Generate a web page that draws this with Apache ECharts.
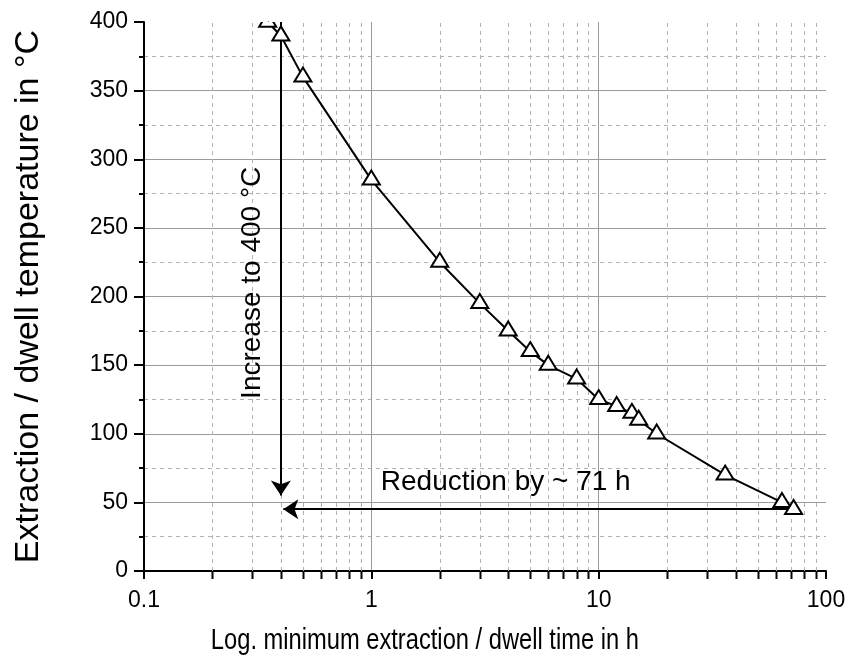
<!DOCTYPE html>
<html><head><meta charset="utf-8">
<script src="https://cdn.jsdelivr.net/npm/echarts@6/dist/echarts.min.js"></script>
<style>html,body{margin:0;padding:0;background:#fff}#c{width:849px;height:657px}</style>
</head><body><div id="c"></div>
<script>
// ---- data ----
const timeH = [0.35, 0.4, 0.5, 1, 2, 3, 4, 5, 6, 8, 10, 12, 14, 15, 18, 36, 64, 72];
const tempC = [400, 390, 360, 285, 225, 195, 175, 160, 150, 140, 125, 120, 115, 110, 100, 70, 50, 45];
const xMinorTicks = [0.2, 0.3, 0.4, 0.5, 0.6, 0.7, 0.8, 0.9, 2, 3, 4, 5, 6, 7, 8, 9, 20, 30, 40, 50, 60, 70, 80, 90];
const xRange = [0.1, 100];
const yRange = [0, 400];
const yStep = 50;
const increaseArrow = [[0.4, 400], [0.4, 55]];
const reductionArrow = [[72, 45], [0.41, 45]];
const increaseText = 'Increase to 400 °C';
const reductionText = 'Reduction by ~ 71 h';
const xName = 'Log. minimum extraction / dwell time in h';
const yName = 'Extraction / dwell temperature in °C';

// ---- styles ----
const FONT = "'Liberation Sans', Arial, sans-serif";
const MAJOR = '#9a9a9a', MINOR = '#b0b0b0';

const chart = echarts.init(document.getElementById('c'), null, {renderer: 'canvas'});
const pts = timeH.map((t, i) => [t, tempC[i]]);

chart.setOption({
  animation: false,
  backgroundColor: '#fff',
  grid: {left: 144, right: 23, top: 22, bottom: 86},
  xAxis: {
    type: 'log', logBase: 10, min: xRange[0], max: xRange[1],
    axisLine: {onZero: false, lineStyle: {color: '#000', width: 2}},
    axisTick: {show: true, length: 8, lineStyle: {color: '#000', width: 2}},
    axisLabel: {fontFamily: FONT, fontSize: 23, color: '#000', margin: 18},
    splitLine: {show: true, showMinLine: false, showMaxLine: false, lineStyle: {color: MAJOR, width: 1}},
    minorTick: {show: false}
  },
  yAxis: {
    type: 'value', min: yRange[0], max: yRange[1], interval: yStep,
    name: yName, nameLocation: 'middle', nameGap: 98,
    nameTextStyle: {fontFamily: FONT, fontSize: 34, color: '#000'},
    axisLine: {show: true, onZero: false, lineStyle: {color: '#000', width: 2}},
    axisTick: {show: true, length: 10, lineStyle: {color: '#000', width: 2}},
    minorTick: {show: true, splitNumber: 2, length: 5, lineStyle: {color: '#000', width: 2}},
    axisLabel: {fontFamily: FONT, fontSize: 23, color: '#000', margin: 16},
    splitLine: {show: true, showMinLine: false, showMaxLine: false, lineStyle: {color: MAJOR, width: 1}},
    minorSplitLine: {show: true, lineStyle: {color: MINOR, width: 1, type: [4, 4]}}
  },
  series: [
    {
      type: 'custom', name: 'minorX', silent: true, clip: false, z: 1,
      data: xMinorTicks.map(v => [v, yRange[0]]),
      renderItem(params, api) {
        const b = api.coord([api.value(0), yRange[0]]);
        const t = api.coord([api.value(0), yRange[1]]);
        const x = Math.round(b[0]) + 0.5;
        return {type: 'group', children: [
          {type: 'line', shape: {x1: x, y1: b[1], x2: x, y2: t[1]},
           style: {stroke: MINOR, lineWidth: 1, lineDash: [4, 4]}},
          {type: 'line', shape: {x1: x, y1: b[1], x2: x, y2: b[1] + 8},
           style: {stroke: '#000', lineWidth: 2}}
        ]};
      }
    },
    {
      type: 'line', name: 'curve', data: pts, showSymbol: false, symbol: 'none',
      clip: true, z: 3, silent: true,
      lineStyle: {color: '#000', width: 2}
    },
    {
      type: 'line', name: 'arrows', data: [], z: 3, silent: true,
      markLine: {
        silent: true, animation: false,
        symbol: ['none', 'arrow'], symbolSize: 15,
        label: {show: false},
        lineStyle: {color: '#000', width: 2, type: 'solid'},
        emphasis: {disabled: true},
        data: [
          [{coord: increaseArrow[0]}, {coord: increaseArrow[1]}],
          [{coord: reductionArrow[0]}, {coord: reductionArrow[1]}]
        ]
      }
    },
    {
      type: 'custom', name: 'markers', silent: true, clip: true, z: 5,
      data: pts,
      renderItem(params, api) {
        const p = api.coord([api.value(0), api.value(1)]);
        const w = 17, h = 14;
        return {type: 'polygon',
          shape: {points: [[p[0], p[1] - h * 2 / 3], [p[0] + w / 2, p[1] + h / 3], [p[0] - w / 2, p[1] + h / 3]]},
          style: {fill: '#fff', stroke: '#000', lineWidth: 2, lineJoin: 'miter'}};
      }
    }
  ]
});

// annotation texts and x-axis title, positioned through the axes
const incPx = chart.convertToPixel({gridIndex: 0}, [increaseArrow[0][0], 210]);
const redPx = chart.convertToPixel({gridIndex: 0}, [3.9, 64.5]);
const xTitlePx = chart.convertToPixel({gridIndex: 0}, [1.72, yRange[0]]);
chart.setOption({
  graphic: [
    {type: 'text', x: incPx[0] - 29, y: incPx[1], rotation: Math.PI / 2, silent: true, z: 10,
     style: {text: increaseText, fontFamily: FONT, fontSize: 28, fill: '#000', align: 'center', verticalAlign: 'middle'}},
    {type: 'text', x: redPx[0], y: redPx[1], silent: true, z: 10,
     style: {text: reductionText, fontFamily: FONT, fontSize: 28, fill: '#000', align: 'center', verticalAlign: 'middle'}},
    {type: 'text', x: xTitlePx[0], y: xTitlePx[1] + 70, scaleX: 0.79, silent: true, z: 10,
     style: {text: xName, fontFamily: FONT, fontSize: 30, fill: '#000', align: 'center', verticalAlign: 'middle'}}
  ]
});
</script>
</body></html>
